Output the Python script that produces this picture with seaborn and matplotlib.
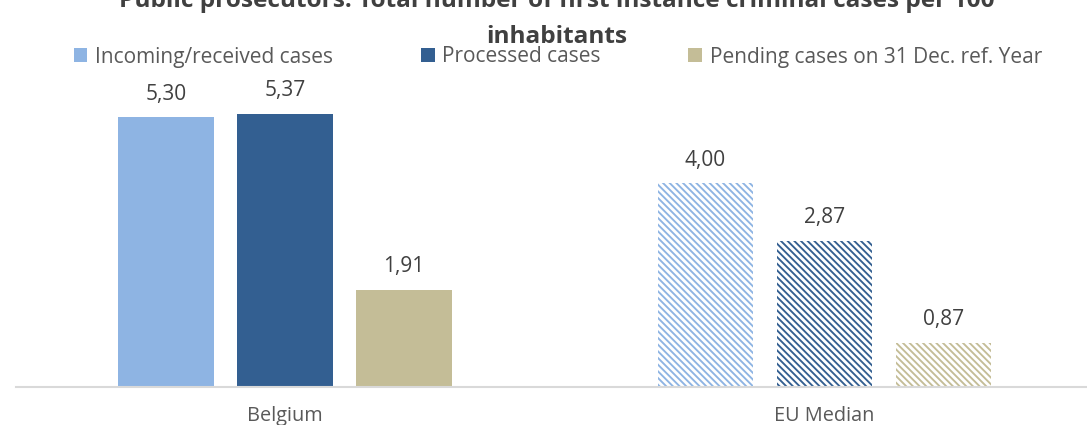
import matplotlib
matplotlib.use("Agg")
import matplotlib.pyplot as plt
import seaborn as sns
import pandas as pd
from matplotlib.patches import Patch

# ---- data ----
categories = ["Belgium", "EU Median"]
series = ["Incoming/received cases", "Processed cases", "Pending cases on 31 Dec. ref. Year"]
incoming = [5.30, 4.00]
processed = [5.37, 2.87]
pending = [1.91, 0.87]
colors = ["#8EB4E3", "#335F91", "#C4BD97"]
title_lines = ["Public prosecutors: Total number of first instance criminal cases per 100",
               "inhabitants"]

rows = []
for s, vals in zip(series, [incoming, processed, pending]):
    for c, v in zip(categories, vals):
        rows.append({"Country": c, "Series": s, "Value": v})
df = pd.DataFrame(rows)

sns.set_theme(style="white")
plt.rcParams["font.family"] = ["Open Sans", "DejaVu Sans"]
plt.rcParams["hatch.linewidth"] = 1.35

W, H = 1087, 425
fig = plt.figure(figsize=(W / 100, H / 100), dpi=100)
ax_left, ax_right = 16, 1087
base_y = 387
px_per_unit = 50.9
ymax = 6.0
ax = fig.add_axes([ax_left / W, (H - base_y) / H, (ax_right - ax_left) / W, ymax * px_per_unit / H])

sns.barplot(data=df, x="Country", y="Value", hue="Series", order=categories,
            hue_order=series, palette=colors, width=0.662, gap=0.2,
            ax=ax, legend=False, saturation=1)

# EU Median bars hatched
for cont, col in zip(ax.containers, colors):
    for i, bar in enumerate(cont):
        bar.set_linewidth(0)
        if categories[i] == "EU Median":
            bar.set_facecolor("white")
            bar.set_edgecolor(col)
            bar.set_hatch("\\\\\\\\\\")
            bar.set_linewidth(0)
    labels = [f"{v:.2f}".replace(".", ",") for v in cont.datavalues]
    ax.bar_label(cont, labels=labels, padding=9, fontsize=15, color="#404040")

sep = 539.5
ax.set_xlim(-(285 - ax_left) / sep, 1 + (ax_right - 824.5) / sep)
ax.set_ylim(0, ymax)
ax.set_xlabel("")
ax.set_ylabel("")
ax.set_yticks([])
for s in ["top", "right", "left"]:
    ax.spines[s].set_visible(False)
ax.spines["bottom"].set_color("#D9D9D9")
ax.spines["bottom"].set_linewidth(1.5)
ax.tick_params(axis="x", length=0, pad=14, labelsize=14.3, labelcolor="#595959")

handles = [Patch(facecolor=c, edgecolor="none") for c in colors]
fig.legend(handles, series, loc="center", bbox_to_anchor=(558 / W, 1 - 57 / H),
           ncol=3, frameon=False, fontsize=15, labelcolor="#595959",
           handlelength=0.66, handleheight=0.66, handletextpad=0.38,
           columnspacing=4.2, borderpad=0, borderaxespad=0)

title_x = 557 / W
fig.text(title_x, 1 - 7 / H, title_lines[0], ha="center", va="baseline", fontsize=17.6,
         fontweight="bold", color="#404040")
fig.text(title_x, 1 - 43 / H, title_lines[1], ha="center", va="baseline", fontsize=17.6,
         fontweight="bold", color="#404040")

fig.savefig("out.png", dpi=100)
